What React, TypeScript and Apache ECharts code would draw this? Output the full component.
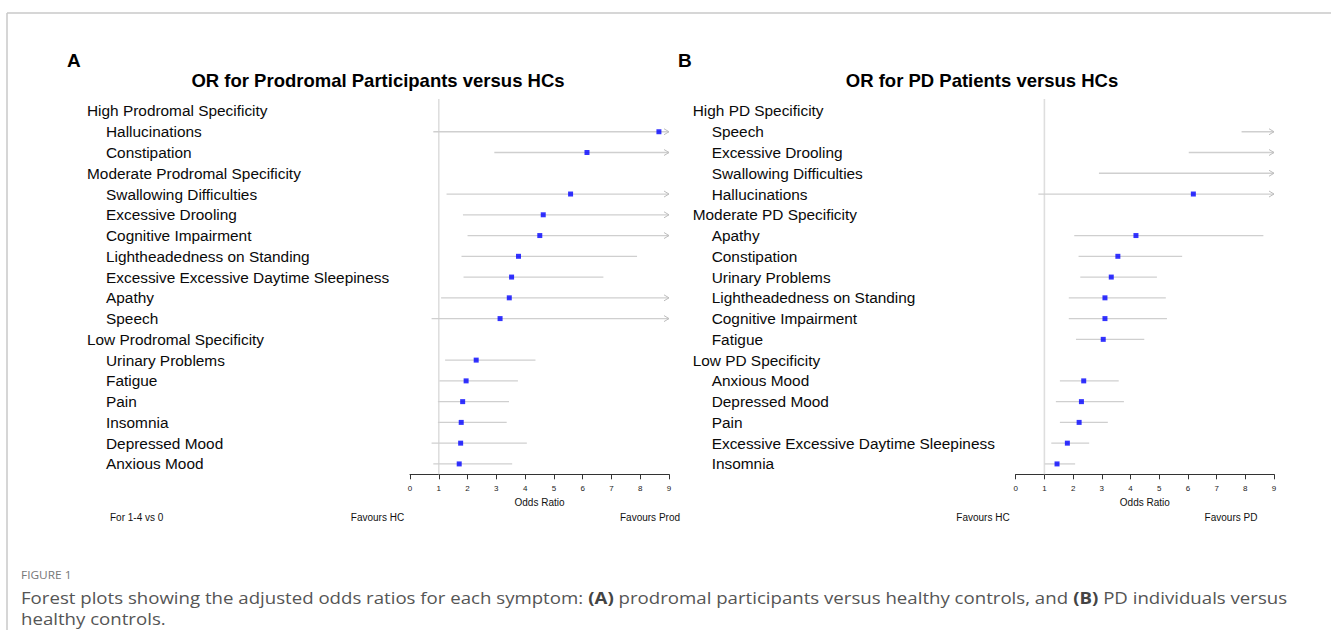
import React, { useEffect, useRef } from "react";
import * as echarts from "echarts";

// ---------- data ----------
const OFF = Infinity; // value lies beyond the right end of the axis (drawn as an arrow)
const AXIS_MIN = 0;
const AXIS_MAX = 9;
const REF_OR = 1;

const rowsA = [
  "High Prodromal Specificity",
  "Hallucinations",
  "Constipation",
  "Moderate Prodromal Specificity",
  "Swallowing Difficulties",
  "Excessive Drooling",
  "Cognitive Impairment",
  "Lightheadedness on Standing",
  "Excessive Excessive Daytime Sleepiness",
  "Apathy",
  "Speech",
  "Low Prodromal Specificity",
  "Urinary Problems",
  "Fatigue",
  "Pain",
  "Insomnia",
  "Depressed Mood",
  "Anxious Mood",
];
const headersA = [0, 3, 11];
const orA = [null, 8.65, 6.15, null, 5.58, 4.63, 4.51, 3.77, 3.53, 3.45, 3.13, null, 2.3, 1.95, 1.83, 1.78, 1.76, 1.71];
const lowA = [null, 0.81, 2.93, null, 1.27, 1.84, 2.0, 1.79, 1.86, 1.08, 0.75, null, 1.22, 1.02, 0.97, 0.97, 0.75, 0.81];
const highA = [null, OFF, OFF, null, OFF, OFF, OFF, 7.89, 6.72, OFF, OFF, null, 4.36, 3.75, 3.44, 3.36, 4.06, 3.55];

const rowsB = [
  "High PD Specificity",
  "Speech",
  "Excessive Drooling",
  "Swallowing Difficulties",
  "Hallucinations",
  "Moderate PD Specificity",
  "Apathy",
  "Constipation",
  "Urinary Problems",
  "Lightheadedness on Standing",
  "Cognitive Impairment",
  "Fatigue",
  "Low PD Specificity",
  "Anxious Mood",
  "Depressed Mood",
  "Pain",
  "Excessive Excessive Daytime Sleepiness",
  "Insomnia",
];
const headersB = [0, 5, 12];
const orB = [null, OFF, OFF, OFF, 6.19, null, 4.19, 3.56, 3.33, 3.11, 3.11, 3.05, null, 2.37, 2.29, 2.21, 1.8, 1.44];
const lowB = [null, 7.87, 6.03, 2.9, 0.79, null, 2.04, 2.19, 2.25, 1.85, 1.85, 2.1, null, 1.54, 1.4, 1.54, 1.24, 1.01];
const highB = [null, OFF, OFF, OFF, OFF, null, 8.63, 5.8, 4.92, 5.23, 5.27, 4.48, null, 3.59, 3.77, 3.21, 2.56, 2.07];

const panelLetters = ["A", "B"];
const panelTitles = ["OR for Prodromal Participants versus HCs", "OR for PD Patients versus HCs"];
const favoursLeft = ["Favours HC", "Favours HC"];
const favoursRight = ["Favours Prod", "Favours PD"];
const comparisonNote = "For 1-4 vs 0";
const axisName = "Odds Ratio";
const figureLabel = "FIGURE 1";
const captionLine1 =
  "Forest plots showing the adjusted odds ratios for each symptom: {b|(A)} prodromal participants versus healthy controls, and {b|(B)} PD individuals versus";
const captionLine2 = "healthy controls.";

// ---------- layout ----------
const FONT = "Liberation Sans, Arial, sans-serif";
const LABEL_SIZE = 15.4;
const GRIDS = [
  { left: 410, width: 259 },
  { left: 1015.7, width: 258.3 },
];
const GRID_TOP = 100.6;
const GRID_H = 373.7;

function buildPanel(idx: number, rows: string[], headers: number[], ors: any[], lows: any[], highs: any[]) {
  const ciData: any[] = [];
  const ptData: any[] = [];
  rows.forEach((_, i) => {
    if (lows[i] == null) return;
    const hi = highs[i];
    const arrow = hi > AXIS_MAX ? 1 : 0;
    ciData.push([lows[i], i, Math.min(hi, AXIS_MAX), arrow]);
    const o = ors[i];
    if (o != null && o <= AXIS_MAX) ptData.push([o, i]);
  });
  const hs = new Set(headers);
  const xAxis = {
    gridIndex: idx,
    type: "value",
    min: AXIS_MIN,
    max: AXIS_MAX,
    interval: 1,
    splitLine: { show: false },
    axisLine: { show: true, onZero: false, lineStyle: { color: "#333", width: 1 } },
    axisTick: { show: true, length: 5, lineStyle: { color: "#333", width: 1 } },
    axisLabel: { fontSize: 8, color: "#222", fontFamily: FONT, margin: 10 },
    name: axisName,
    nameLocation: "middle",
    nameGap: 21,
    nameTextStyle: { fontSize: 10, color: "#111", fontFamily: FONT },
  };
  const yAxis = {
    gridIndex: idx,
    type: "category",
    data: rows,
    inverse: true,
    axisLine: { show: false },
    axisTick: { show: false },
    splitLine: { show: false },
    axisLabel: {
      interval: 0,
      align: "left",
      margin: 323,
      fontFamily: FONT,
      fontSize: LABEL_SIZE,
      color: "#0a0a0a",
      formatter: (v: string, i: number) => (hs.has(i) ? `{h|${v}}` : `{i|${v}}`),
      rich: {
        h: { fontFamily: FONT, fontSize: LABEL_SIZE, color: "#0a0a0a" },
        i: { fontFamily: FONT, fontSize: LABEL_SIZE, color: "#0a0a0a", padding: [0, 0, 0, 19] },
      },
    },
  };
  const series = [
    {
      type: "custom",
      coordinateSystem: "cartesian2d",
      xAxisIndex: idx,
      yAxisIndex: idx,
      z: 2,
      data: ciData,
      renderItem: (params: any, api: any) => {
        const lo = api.value(0);
        const row = api.value(1);
        const hi = api.value(2);
        const arrow = api.value(3);
        const p1 = api.coord([lo, row]);
        const p2 = api.coord([hi, row]);
        const children: any[] = [];
        if (params.dataIndex === 0) {
          const cs = params.coordSys;
          const rx = api.coord([REF_OR, row])[0];
          children.push({
            type: "line",
            z2: -1,
            shape: { x1: rx, y1: cs.y - 1.5, x2: rx, y2: cs.y + cs.height },
            style: { stroke: "#dedede", lineWidth: 1.6 },
          });
        }
        children.push({
          type: "line",
          shape: { x1: p1[0], y1: p1[1], x2: p2[0], y2: p2[1] },
          style: { stroke: "#cfcfcf", lineWidth: 1.3 },
        });
        if (arrow) {
          children.push({
            type: "polyline",
            shape: { points: [[p2[0] - 5, p2[1] - 3], [p2[0], p2[1]], [p2[0] - 5, p2[1] + 3]] },
            style: { stroke: "#bdbdbd", fill: null, lineWidth: 1 },
          });
        }
        return { type: "group", children };
      },
    },
    {
      type: "scatter",
      xAxisIndex: idx,
      yAxisIndex: idx,
      z: 3,
      symbol: "rect",
      symbolSize: 5,
      itemStyle: { color: "#0000ff" },
      data: ptData,
    },
  ];
  return { xAxis, yAxis, series };
}

export default function App() {
  const ref = useRef<HTMLDivElement>(null);
  useEffect(() => {
    if (!ref.current) return;
    const chart = echarts.init(ref.current, null, { renderer: "svg" });
    const pA = buildPanel(0, rowsA, headersA, orA, lowA, highA);
    const pB = buildPanel(1, rowsB, headersB, orB, lowB, highB);

    const graphics: any[] = [
      { type: "line", shape: { x1: 7, y1: 13, x2: 1331, y2: 13 }, style: { stroke: "#c8c8c8", lineWidth: 1.5 } },
      { type: "line", shape: { x1: 7, y1: 13, x2: 7, y2: 630 }, style: { stroke: "#c8c8c8", lineWidth: 1.5 } },
    ];
    const letterX = [67, 678];
    const titleCx = [378, 982];
    const favLX = [377.5, 983];
    const favRX = [650, 1231];
    panelLetters.forEach((L, i) => {
      graphics.push({
        type: "text",
        x: letterX[i],
        y: 60,
        style: { text: L, fontFamily: FONT, fontWeight: "bold", fontSize: 19, fill: "#000", textVerticalAlign: "middle" },
      });
      graphics.push({
        type: "text",
        x: titleCx[i],
        y: 80,
        style: {
          text: panelTitles[i],
          fontFamily: FONT,
          fontWeight: "bold",
          fontSize: 18.5,
          fill: "#000",
          textAlign: "center",
          textVerticalAlign: "middle",
        },
      });
      graphics.push({
        type: "text",
        x: favLX[i],
        y: 517,
        style: { text: favoursLeft[i], fontFamily: FONT, fontSize: 10, fill: "#111", textAlign: "center", textVerticalAlign: "middle" },
      });
      graphics.push({
        type: "text",
        x: favRX[i],
        y: 517,
        style: { text: favoursRight[i], fontFamily: FONT, fontSize: 10, fill: "#111", textAlign: "center", textVerticalAlign: "middle" },
      });
    });
    graphics.push({
      type: "text",
      x: 110,
      y: 517,
      style: { text: comparisonNote, fontFamily: FONT, fontSize: 10, fill: "#111", textVerticalAlign: "middle" },
    });
    graphics.push({
      type: "text",
      x: 21,
      y: 575,
      scaleX: 1.08,
      style: { text: figureLabel, fontFamily: "Open Sans", fontSize: 11, fill: "#777", textVerticalAlign: "middle" },
    });
    graphics.push({
      type: "text",
      x: 21,
      y: 598,
      scaleX: 1.165,
      style: {
        text: captionLine1,
        fontFamily: "Open Sans",
        fontSize: 16,
        fill: "#555",
        textVerticalAlign: "middle",
        rich: { b: { fontFamily: "Open Sans", fontSize: 16, fontWeight: "bold", fill: "#444" } },
      },
    });
    graphics.push({
      type: "text",
      x: 21,
      y: 619,
      scaleX: 1.165,
      style: { text: captionLine2, fontFamily: "Open Sans", fontSize: 16, fill: "#555", textVerticalAlign: "middle" },
    });

    chart.setOption({
      animation: false,
      backgroundColor: "#fff",
      grid: GRIDS.map((g) => ({ left: g.left, width: g.width, top: GRID_TOP, height: GRID_H, containLabel: false })),
      xAxis: [pA.xAxis, pB.xAxis],
      yAxis: [pA.yAxis, pB.yAxis],
      series: [...pA.series, ...pB.series],
      graphic: graphics,
    });
    return () => chart.dispose();
  }, []);
  return <div ref={ref} style={{ position: "absolute", left: 0, top: 0, width: 1331, height: 630 }} />;
}
